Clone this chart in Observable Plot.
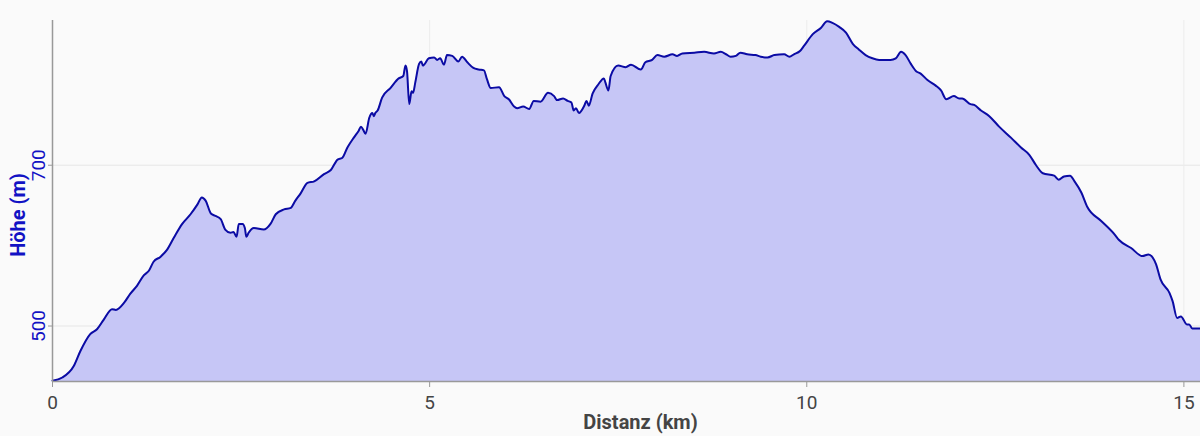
<!DOCTYPE html>
<html>
<head>
<meta charset="utf-8">
<script src="https://cdn.jsdelivr.net/npm/d3@7"></script>
<script src="https://cdn.jsdelivr.net/npm/@observablehq/plot@0.6"></script>
<style>
  html, body { margin: 0; padding: 0; background: #fafafa; }
  #chart svg { display: block; background: #fafafa; }
</style>
</head>
<body>
<div id="chart"></div>
<script>
const distanceKm = [0, 0.13, 0.28, 0.37, 0.50, 0.59, 0.68, 0.79, 0.84, 0.95, 1.03, 1.12, 1.21, 1.28, 1.34, 1.43, 1.52, 1.61, 1.72, 1.83, 1.92, 1.98, 2.03, 2.10, 2.16, 2.23, 2.29, 2.36, 2.40, 2.44, 2.47, 2.49, 2.52, 2.55, 2.57, 2.60, 2.67, 2.80, 2.89, 2.96, 3.07, 3.16, 3.22, 3.29, 3.38, 3.47, 3.60, 3.69, 3.78, 3.84, 3.91, 4.00, 4.06, 4.09, 4.12, 4.15, 4.20, 4.24, 4.26, 4.28, 4.31, 4.37, 4.48, 4.59, 4.65, 4.68, 4.70, 4.73, 4.76, 4.78, 4.81, 4.86, 4.89, 4.91, 4.99, 5.06, 5.10, 5.14, 5.19, 5.23, 5.30, 5.38, 5.43, 5.50, 5.58, 5.65, 5.72, 5.76, 5.81, 5.92, 5.99, 6.05, 6.12, 6.16, 6.24, 6.32, 6.38, 6.47, 6.57, 6.65, 6.69, 6.77, 6.83, 6.88, 6.91, 6.94, 6.98, 7.05, 7.08, 7.11, 7.16, 7.24, 7.31, 7.33, 7.37, 7.40, 7.50, 7.60, 7.67, 7.80, 7.86, 7.95, 8.02, 8.11, 8.22, 8.28, 8.35, 8.51, 8.64, 8.77, 8.86, 8.93, 8.99, 9.06, 9.12, 9.21, 9.32, 9.39, 9.48, 9.57, 9.70, 9.77, 9.83, 9.91, 9.96, 10.08, 10.19, 10.27, 10.34, 10.43, 10.52, 10.61, 10.69, 10.78, 10.87, 10.96, 11.11, 11.18, 11.25, 11.31, 11.38, 11.45, 11.51, 11.60, 11.71, 11.78, 11.85, 11.95, 12.02, 12.06, 12.17, 12.22, 12.31, 12.42, 12.55, 12.71, 12.84, 12.95, 13.04, 13.13, 13.28, 13.34, 13.41, 13.49, 13.55, 13.64, 13.72, 13.90, 14.08, 14.14, 14.30, 14.45, 14.53, 14.63, 14.69, 14.81, 14.85, 14.91, 14.96, 15.04, 15.07, 15.11, 15.22];

const elevationM = [432, 436, 450, 469, 490, 496, 508, 521, 520, 529, 540, 550, 563, 569, 580, 586, 595, 610, 627, 639, 651, 660, 656, 640, 637, 633, 620, 616, 617, 611, 627, 627, 627, 622, 611, 616, 622, 620, 627, 639, 645, 647, 656, 665, 678, 680, 689, 694, 707, 709, 722, 735, 743, 748, 744, 739, 759, 765, 761, 765, 768, 784, 796, 808, 811, 824, 817, 776, 792, 790, 803, 826, 829, 824, 833, 834, 831, 833, 825, 837, 836, 829, 835, 828, 821, 819, 818, 807, 796, 797, 786, 782, 773, 771, 773, 770, 780, 779, 790, 786, 781, 783, 780, 778, 768, 771, 765, 774, 780, 774, 789, 801, 808, 803, 793, 811, 824, 822, 825, 819, 828, 831, 837, 835, 838, 836, 839, 840, 841, 839, 841, 838, 835, 836, 840, 838, 837, 835, 834, 837, 838, 835, 838, 842, 848, 863, 871, 879, 877, 872, 865, 851, 844, 837, 833, 831, 831, 833, 841, 837, 826, 817, 814, 806, 799, 793, 782, 786, 783, 783, 776, 775, 768, 761, 748, 734, 722, 713, 700, 690, 687, 682, 686, 687, 680, 666, 648, 631, 614, 607, 597, 587, 589, 577, 558, 541, 531, 510, 512, 502, 502, 497, 497];

const xTicks = [0, 5, 10, 15];
const yTicks = [500, 700];
const xLabel = "Distanz (km)";
const yLabel = "Höhe (m)";

const data = distanceKm.map((d, i) => ({d, e: elevationM[i]}));
const yMin = 431, yMax = 880;
const xMax = 15.22;

const font = "Roboto, 'Noto Sans', sans-serif";
const blue = "#1212c4";
const gray = "#444";

const chart = Plot.plot({
  width: 1200,
  height: 436,
  marginLeft: 52,
  marginRight: 0,
  marginTop: 20,
  marginBottom: 55,
  style: {background: "#fafafa", fontFamily: font},
  x: {type: "linear", domain: [0, xMax]},
  y: {type: "linear", domain: [yMin, yMax]},
  marks: [
    Plot.gridY(yTicks, {stroke: "#e6e6e6", strokeOpacity: 1}),
    Plot.gridX(xTicks.filter(t => t > 0), {stroke: "#ececec", strokeOpacity: 1}),
    Plot.areaY(data, {x: "d", y1: () => yMin, y2: "e", fill: "#c6c6f6", curve: "monotone-x"}),
    Plot.line(data, {x: "d", y: "e", stroke: "#0b0ba4", strokeWidth: 2, curve: "monotone-x"}),
    Plot.ruleY([yMin], {stroke: "#999", strokeWidth: 1.5}),
    Plot.ruleX([0], {stroke: "#999", strokeWidth: 1.5}),
    Plot.axisX({ticks: xTicks, tickSize: 6, tickPadding: 8, fontSize: 19, color: gray, stroke: "#999", label: null, tickFormat: d => String(d)}),
    Plot.axisY({ticks: yTicks, tickSize: 4, stroke: "#999", tickFormat: () => "", label: null}),
    Plot.text(yTicks, {y: d => d, frameAnchor: "left", dx: -14, rotate: -90, text: d => String(d), fontSize: 19, fill: blue, textAnchor: "middle", lineAnchor: "middle"}),
    Plot.text([yLabel], {frameAnchor: "left", dx: -34, dy: 14, rotate: -90, text: d => d, fontSize: 20, fontWeight: "bold", fill: blue, textAnchor: "middle", lineAnchor: "middle"}),
    Plot.text([xLabel], {frameAnchor: "bottom", dx: 14, dy: 41, text: d => d, fontSize: 20, fontWeight: "bold", fill: gray, textAnchor: "middle", lineAnchor: "middle"})
  ]
});
document.getElementById("chart").appendChild(chart);
</script>
</body>
</html>
